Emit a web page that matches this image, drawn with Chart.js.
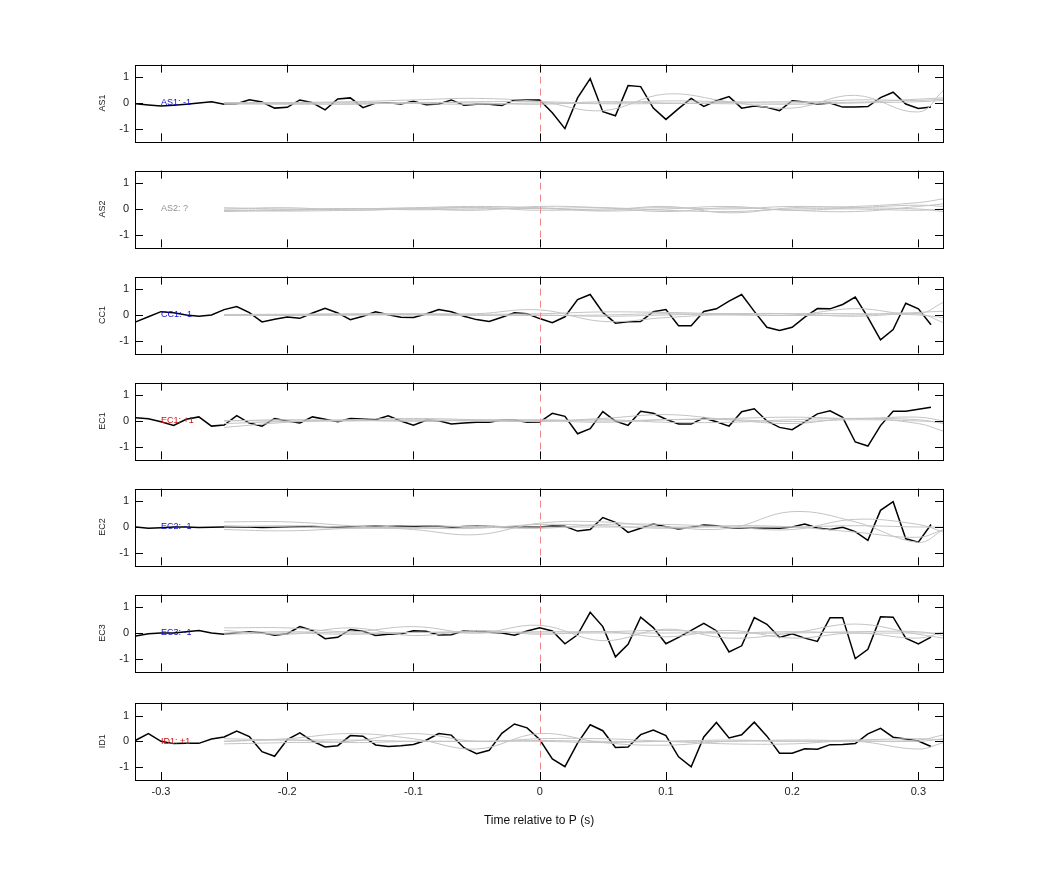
<!DOCTYPE html>
<html><head><meta charset="utf-8">
<script src="https://cdn.jsdelivr.net/npm/chart.js@4"></script>
<style>body{margin:0;background:#fff;width:1042px;height:875px;position:relative;overflow:hidden}
.p{position:absolute;left:0;width:1042px}</style></head><body>
<script>
const panelNames = ["AS1","AS2","CC1","EC1","EC2","EC3","ID1"];
const panelTags = ["AS1: -1","AS2: ?","CC1: -1","EC1: +1","EC2: -1","EC3: -1","ID1: +1"];
const tagColors = ["#1010d0","#909090","#1010d0","#d01010","#1010d0","#1010d0","#d01010"];
const xTicks = [-0.3,-0.2,-0.1,0,0.1,0.2,0.3];
const yTicks = [-1,0,1];
const times = [-0.32,-0.31,-0.30,-0.29,-0.28,-0.27,-0.26,-0.25,-0.24,-0.23,-0.22,-0.21,-0.20,-0.19,-0.18,-0.17,-0.16,-0.15,-0.14,-0.13,-0.12,-0.11,-0.10,-0.09,-0.08,-0.07,-0.06,-0.05,-0.04,-0.03,-0.02,-0.01,0.00,0.01,0.02,0.03,0.04,0.05,0.06,0.07,0.08,0.09,0.10,0.11,0.12,0.13,0.14,0.15,0.16,0.17,0.18,0.19,0.20,0.21,0.22,0.23,0.24,0.25,0.26,0.27,0.28,0.29,0.30,0.31];
const grayTimes = [-0.25,-0.2,-0.15,-0.1,-0.05,0,0.05,0.1,0.15,0.2,0.25,0.3,0.32];

const blackAS1 = [-0.03,-0.08,-0.12,-0.09,-0.05,0,0.05,-0.05,-0.03,0.13,0.04,-0.2,-0.17,0.12,0.01,-0.27,0.16,0.2,-0.18,0,0.01,-0.04,0.07,-0.07,-0.04,0.12,-0.09,-0.05,-0.05,-0.1,0.12,0.12,0.12,-0.38,-1.0,0.2,0.95,-0.34,-0.5,0.68,0.64,-0.2,-0.64,-0.22,0.18,-0.13,0.09,0.25,-0.2,-0.12,-0.17,-0.3,0.09,0.04,-0.05,0,-0.16,-0.16,-0.14,0.21,0.42,-0.04,-0.21,-0.16];
const blackAS2 = null;
const blackCC1 = [-0.27,-0.07,0.13,0.09,0,-0.05,0,0.21,0.33,0.09,-0.27,-0.17,-0.08,-0.13,0.08,0.26,0.08,-0.18,-0.05,0.13,0.01,-0.09,-0.1,0.04,0.21,0.13,-0.05,-0.18,-0.25,-0.09,0.09,0.05,-0.14,-0.3,-0.07,0.6,0.8,0.1,-0.32,-0.26,-0.25,0.13,0.21,-0.42,-0.42,0.14,0.24,0.54,0.8,0.14,-0.48,-0.6,-0.48,-0.08,0.25,0.24,0.41,0.7,-0.09,-0.97,-0.57,0.46,0.24,-0.38];
const blackEC1 = [0.13,0.09,-0.03,-0.17,0.07,0.16,-0.2,-0.16,0.21,-0.08,-0.2,0.1,0,-0.08,0.16,0.07,-0.03,0.1,0.08,0.05,0.2,0,-0.16,0.03,0.01,-0.12,-0.08,-0.05,-0.05,0.04,0.04,-0.05,-0.04,0.3,0.18,-0.5,-0.3,0.37,0,-0.17,0.38,0.3,0.07,-0.12,-0.12,0.12,-0.03,-0.2,0.36,0.48,0,-0.25,-0.34,-0.03,0.28,0.4,0.14,-0.82,-0.98,-0.18,0.38,0.38,0.46,0.54];
const blackEC2 = [0,-0.05,-0.03,0,0,-0.02,-0.01,0,0.01,0,-0.02,-0.01,0,0.01,0.02,0,-0.01,0.01,0.02,0.03,0.02,0.04,0.02,0.05,0.03,-0.01,0.02,0.03,0.02,0.01,0.01,0.01,0,0.04,0.03,-0.16,-0.1,0.37,0.18,-0.21,-0.05,0.12,0.01,-0.08,-0.01,0.08,0.05,-0.03,-0.04,-0.04,-0.04,-0.05,0,0.12,-0.04,-0.1,-0.01,-0.18,-0.52,0.65,0.99,-0.46,-0.59,0.1];
const blackEC3 = [-0.12,-0.03,0,0,0.05,0.1,0,-0.05,0.01,0.05,0.01,-0.09,-0.03,0.25,0.1,-0.22,-0.17,0.14,0.07,-0.1,-0.05,-0.04,0.09,0.07,-0.08,-0.07,0.09,0.07,0.03,0,-0.09,0.08,0.2,0.08,-0.42,-0.07,0.81,0.25,-0.93,-0.44,0.62,0.21,-0.42,-0.17,0.1,0.38,0.09,-0.74,-0.5,0.6,0.34,-0.17,-0.03,-0.2,-0.33,0.6,0.6,-1.0,-0.64,0.63,0.62,-0.2,-0.43,-0.16];
const blackID1 = [0.04,0.3,0,-0.09,-0.08,-0.08,0.09,0.17,0.4,0.18,-0.4,-0.58,0.07,0.33,0.01,-0.22,-0.17,0.22,0.2,-0.14,-0.2,-0.17,-0.12,0.04,0.3,0.24,-0.25,-0.48,-0.35,0.31,0.67,0.52,0.07,-0.68,-0.98,-0.07,0.64,0.41,-0.24,-0.22,0.26,0.44,0.22,-0.6,-0.99,0.17,0.73,0.13,0.25,0.74,0.2,-0.46,-0.46,-0.29,-0.31,-0.13,-0.12,-0.09,0.29,0.5,0.16,0.09,0.01,-0.2];

const grayAS1 = [[0,0.02,0.05,0.12,0.18,0.05,-0.3,0.35,0.05,-0.2,0.3,-0.35,0.5],[0,-0.05,-0.03,0,0.05,0.05,0,0.08,0.05,0,0.12,0.1,0.15],[-0.05,-0.02,0.03,-0.02,-0.05,0,-0.03,-0.02,0.02,0.05,0.03,0.15,0.2],[0.02,0,-0.05,0.02,0,-0.05,0.05,0,-0.03,-0.05,0,0.05,0.1]];
const grayAS2 = [[-0.05,-0.03,0,0.05,0.1,0.05,-0.05,0.1,-0.15,0.05,0.1,0.25,0.4],[0,0.05,-0.05,0,-0.05,0.1,0.05,-0.1,0.05,-0.05,-0.1,0.1,0.2],[-0.1,-0.05,0,0.03,0.05,-0.05,0,0.05,0,0.1,0.05,0,-0.1],[0.05,0,0.02,-0.03,0,0.02,-0.08,0,0.1,-0.05,0.05,0.15,0.1],[-0.05,-0.08,-0.05,0,0.05,0.02,0.05,-0.05,-0.1,0,0,-0.05,0]];
const grayCC1 = [[0,0,0.02,0.03,0.05,0.2,-0.25,-0.1,0.02,0,0.25,0.05,0.5],[0.02,0.03,0.05,0.05,0.03,0.05,0.12,0.1,0.05,0.05,0.05,0,-0.1],[-0.02,0,0,0.02,0,-0.02,0,0.05,0,-0.02,0,0.05,-0.3],[0,-0.02,0,0,-0.02,0,-0.05,0,0.05,0.05,-0.05,0.1,0.15]];
const grayEC1 = [[-0.25,-0.05,0.05,0.1,0.05,0,0.1,0.25,0.05,-0.1,0.1,-0.1,-0.4],[0,0.05,0.02,0,0.05,0.02,-0.05,0.05,0.1,0.15,0.1,0.15,0],[-0.1,-0.02,0,0.05,0,-0.02,0.05,-0.05,-0.05,0.05,0.1,0.05,-0.1],[0.02,0,0.03,0,0.02,0.05,0,0.05,0.05,-0.02,0.05,0,-0.05]];
const grayEC2 = [[0.2,0.2,0.05,-0.1,-0.3,0.15,0.2,0,-0.05,0.6,0.2,-0.6,-0.1],[-0.1,-0.15,-0.05,0.05,0,-0.05,0.1,0.1,0,-0.1,0.3,0.1,-0.2],[0.05,0,-0.05,-0.05,-0.05,0.1,0.05,-0.05,0.05,0,-0.2,-0.4,-0.1],[0,0.05,0,-0.02,0.02,0,0,0,0,0,0.05,0,0]];
const grayEC3 = [[0.2,0.2,0.05,0.25,0,0.3,-0.3,0.15,-0.2,0,0.35,-0.05,-0.2],[0.1,-0.05,0.2,-0.1,0.1,-0.05,0.05,-0.15,0.1,-0.2,0,-0.2,0.05],[0,0.05,0,0.02,0.05,0,0,0,0,0.05,0,0,0],[-0.05,0,-0.05,0.02,0,0.05,0.05,0.1,0,0,0.05,0.05,-0.1]];
const grayID1 = [[0,0.1,0.3,0.1,-0.3,0.3,-0.05,-0.15,0,0,0,0.05,0.25],[-0.1,-0.05,0,0.3,0,0.1,0.1,0,-0.1,-0.1,0,-0.3,-0.05],[0,0.05,-0.05,0,0,0,-0.05,0,0,0.05,0.02,0,0.1],[0.1,0.05,0.05,0,0,0.03,0,0,0.05,0,0.05,0.1,0.05]];

const blacks = [blackAS1,blackAS2,blackCC1,blackEC1,blackEC2,blackEC3,blackID1];
const grays = [grayAS1,grayAS2,grayCC1,grayEC1,grayEC2,grayEC3,grayID1];

const FONT = "'Liberation Sans', Arial, sans-serif";
const deco = {
  id:'deco',
  afterDatasetsDraw(chart, args, o){
    const ctx = chart.ctx, a = chart.chartArea, xs = chart.scales.x, ys = chart.scales.y;
    ctx.save();
    ctx.strokeStyle = '#e88'; ctx.lineWidth = 1; ctx.setLineDash([7,5]);
    const x0 = Math.round(xs.getPixelForValue(0))+0.5;
    ctx.beginPath(); ctx.moveTo(x0,a.top); ctx.lineTo(x0,a.bottom); ctx.stroke();
    ctx.setLineDash([]);
    ctx.strokeStyle = '#000'; ctx.lineWidth = 1;
    ctx.strokeRect(Math.round(a.left)+0.5, Math.round(a.top)+0.5, Math.round(a.right-a.left), Math.round(a.bottom-a.top));
    ctx.beginPath();
    xTicks.forEach(v=>{const p=Math.round(xs.getPixelForValue(v))+0.5;ctx.moveTo(p,a.bottom);ctx.lineTo(p,a.bottom-8);ctx.moveTo(p,a.top);ctx.lineTo(p,a.top+8);});
    yTicks.forEach(v=>{const p=Math.round(ys.getPixelForValue(v))+0.5;ctx.moveTo(a.left,p);ctx.lineTo(a.left+8,p);ctx.moveTo(a.right,p);ctx.lineTo(a.right-8,p);});
    ctx.stroke();
    ctx.font = '9px '+FONT; ctx.fillStyle = o.color; ctx.textBaseline='middle'; ctx.textAlign='left';
    ctx.fillText(o.tag, xs.getPixelForValue(-0.3), ys.getPixelForValue(0));
    ctx.translate(103, (a.top+a.bottom)/2); ctx.rotate(-Math.PI/2);
    ctx.fillStyle='#222'; ctx.textAlign='center'; ctx.fillText(o.name,0,0);
    ctx.restore();
  }
};

for(let k=0;k<7;k++){
  const last = k===6;
  const top = 66+106*k;
  const div = document.createElement('div'); div.className='p';
  div.style.top=(last?690:top-14)+'px'; div.style.height=(last?142:102)+'px';
  const cv=document.createElement('canvas'); div.appendChild(cv); document.body.appendChild(div);
  const ds=[];
  grays[k].forEach(g=>ds.push({data:g.map((v,i)=>({x:grayTimes[i],y:v})),borderColor:'#c4c4c4',borderWidth:1,pointRadius:0,tension:0.4}));
  if(blacks[k]) ds.push({data:blacks[k].map((v,i)=>({x:times[i],y:v})),borderColor:'#000',borderWidth:1.5,pointRadius:0,tension:0});
  new Chart(cv,{type:'line',data:{datasets:ds},plugins:[deco],options:{
    responsive:true,maintainAspectRatio:false,animation:false,
    layout:{padding:{left:0,right:99,top:6,bottom:last?0:8}},
    plugins:{legend:{display:false},tooltip:{enabled:false},deco:{tag:panelTags[k],color:tagColors[k],name:panelNames[k]}},
    scales:{
      x:{type:'linear',min:-0.3206,max:0.3195,display:last,grid:{display:false,drawTicks:false},border:{display:false},
        afterBuildTicks:s=>{s.ticks=xTicks.map(v=>({value:v}));},
        ticks:{font:{size:11,family:FONT},color:'#222',padding:5,callback:v=>String(v)},
        title:{display:true,text:'Time relative to P (s)',font:{size:12,family:FONT},color:'#111',padding:{top:10}},
        afterFit:s=>{if(last) s.height=52;}},
      y:{min:-1.5,max:1.5,grid:{display:false,drawTicks:false},border:{display:false},
        afterBuildTicks:s=>{s.ticks=yTicks.map(v=>({value:v}));},
        ticks:{font:{size:11,family:FONT},color:'#222',padding:6},
        afterFit:s=>{s.width=135;}}
    }}});
}
</script></body></html>
